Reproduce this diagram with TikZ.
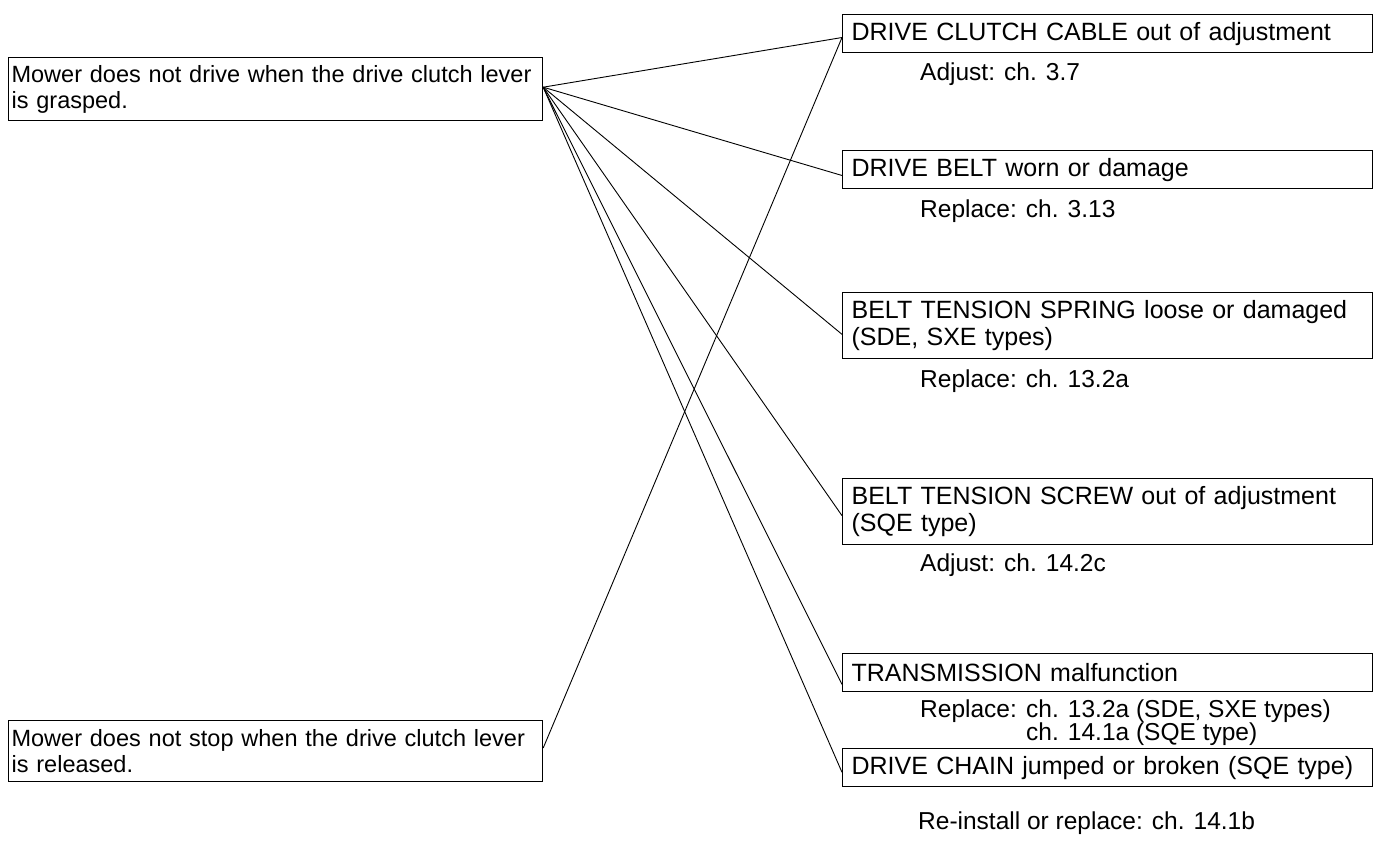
\documentclass[tikz,border=0pt]{standalone}
\usepackage{fontspec}
\setmainfont{Liberation Sans}
\usetikzlibrary{calc}
\newcommand{\myfs}{\fontsize{24.5pt}{27pt}\selectfont}
\newcommand{\myfsl}{\fontsize{23.5pt}{26pt}\selectfont}
\newcommand{\myfsr}{\fontsize{25pt}{27pt}\selectfont}
\begin{document}
\begin{tikzpicture}[x=1pt,y=-1pt,
  box/.style={draw, line width=1.2pt, rectangle, anchor=north west, inner ysep=0pt, align=left},
  leftbox/.style={box, inner xsep=3pt, text width=528pt, minimum height=63pt, font=\myfsl},
  rbox/.style={box, inner xsep=9pt, text width=512pt, font=\myfsr},
  lbl/.style={anchor=base west, inner sep=0pt, font=\myfs},
  conn/.style={line width=0.9pt}]
\useasboundingbox (0,0) rectangle (1383,860);

% left boxes
\node[leftbox] (tl) at (8,57) {\mbox{Mower does not drive when the drive clutch lever}\\is grasped.};
\node[leftbox, minimum height=61pt] (bl) at (8,720) {\mbox{Mower does not stop when the drive clutch lever}\\is released.};

% right boxes
\node[rbox, minimum height=38pt] (b1) at (842,14) {DRIVE CLUTCH CABLE out of adjustment};
\node[rbox, minimum height=38pt] (b2) at (842,150) {DRIVE BELT worn or damage};
\node[rbox, minimum height=66pt] (b3) at (842,292) {BELT TENSION SPRING loose or damaged\\(SDE, SXE types)};
\node[rbox, minimum height=66pt] (b4) at (842,478) {BELT TENSION SCREW out of adjustment\\(SQE type)};
\node[rbox, minimum height=38pt] (b5) at (842,653) {TRANSMISSION malfunction};
\node[rbox, minimum height=38pt] (b6) at (842,748) {DRIVE CHAIN jumped or broken (SQE type)};

% remedy labels
\node[lbl] (r1) at (920,80) {Adjust: ch. 3.7};
\node[lbl] (r2) at (920,217) {Replace: ch. 3.13};
\node[lbl] (r3) at (920,387) {Replace: ch. 13.2a};
\node[lbl] (r4) at (920,571) {Adjust: ch. 14.2c};
\node[lbl] (r5) at (920,717) {Replace:};
\node[lbl] (r5a) at (1026,717) {ch. 13.2a (SDE, SXE types)};
\node[lbl] (r5b) at (1026,740) {ch. 14.1a (SQE type)};
\node[lbl] (r6) at (918,829) {Re-install or replace: ch. 14.1b};

% connection points
\coordinate (s1) at ($(tl.north east)!0.47!(tl.south east)$);
\coordinate (s2) at ($(bl.north east)!0.45!(bl.south east)$);
\coordinate (t1) at ($(b1.north west)!0.6!(b1.south west)$);
\coordinate (t2) at ($(b2.north west)!0.65!(b2.south west)$);
\coordinate (t3) at ($(b3.north west)!0.63!(b3.south west)$);
\coordinate (t4) at ($(b4.north west)!0.56!(b4.south west)$);
\coordinate (t5) at ($(b5.north west)!0.80!(b5.south west)$);
\coordinate (t6) at ($(b6.north west)!0.62!(b6.south west)$);

\foreach \t in {t1,t2,t3,t4,t5,t6} \draw[conn] (s1) -- (\t);
\draw[conn] (s2) -- (t1);
\end{tikzpicture}
\end{document}
